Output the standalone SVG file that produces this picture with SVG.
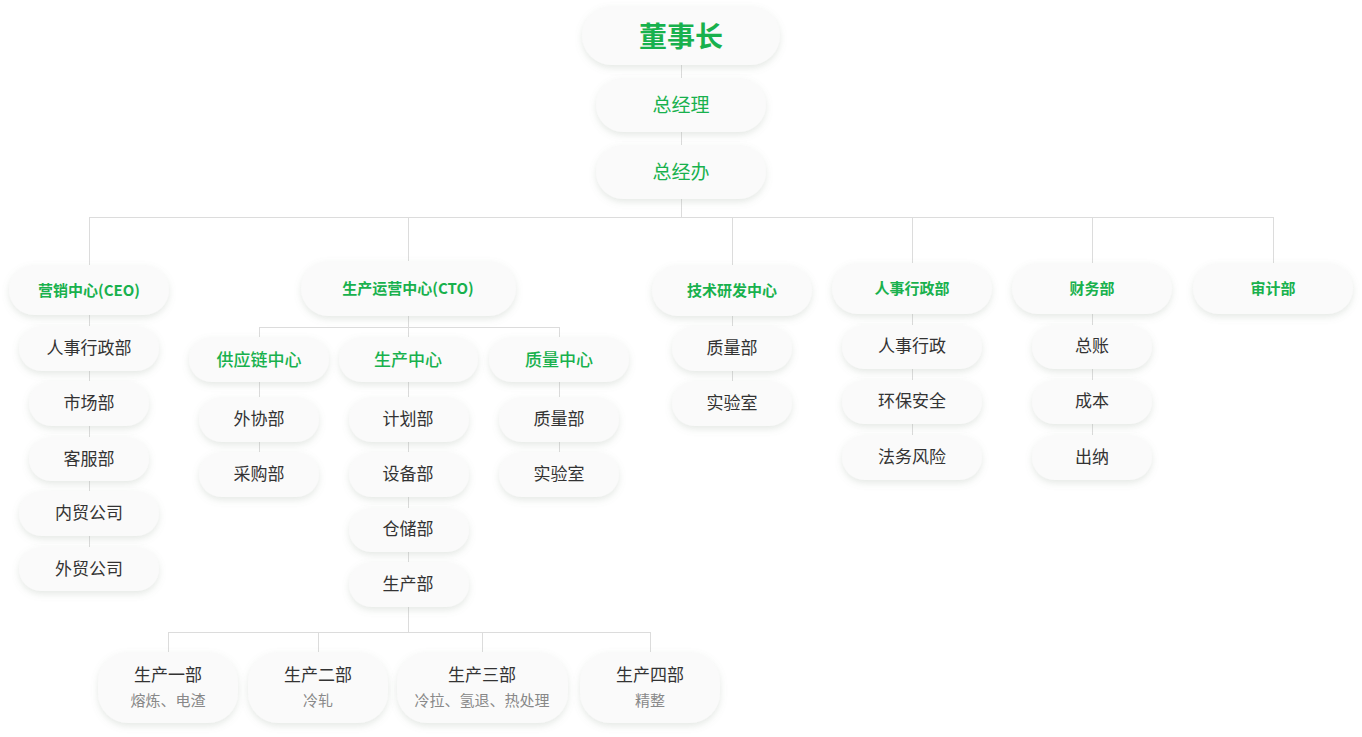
<svg xmlns="http://www.w3.org/2000/svg" width="1362" height="737" viewBox="0 0 1362 737">
<defs>
<filter id="sh" x="-20%" y="-30%" width="140%" height="170%">
<feDropShadow dx="0" dy="3" stdDeviation="3.5" flood-color="#8a9a8a" flood-opacity="0.22"/>
</filter>
<style>
.b{fill:#fafafa;filter:url(#sh)}
.c{stroke:#dcdcdc;stroke-width:1;fill:none}
text{font-family:"Noto Sans CJK SC","Noto Sans",sans-serif;text-anchor:middle;dominant-baseline:central;transform:translateY(-2px)}
.t0{font-size:28px;font-weight:700;fill:#18b14d}
.t1{font-size:19px;fill:#18b14d}
.t2{font-size:15px;font-weight:700;fill:#18b14d}
.t3{font-size:17px;font-weight:500;fill:#18b14d}
.g{font-size:17px;fill:#333}
.s{font-size:15px;fill:#888}
</style>
</defs>
<rect width="1362" height="737" fill="#ffffff"/>
<g id="connectors">
<path class="c" d="M681.5 65V217.5M89.5 217.5H1273.5M89.5 217V547M408.5 217V262M732.5 217V381M912.5 217V435M1092.5 217V435M1273.5 217V263"/>
<path class="c" d="M408.5 316V337M259.5 327.5H559.5M259.5 327V452M559.5 327V452M408.5 337V632"/>
<path class="c" d="M168.5 632.5H650.5M168.5 632V652M318.5 632V652M482.5 632V652M650.5 632V652"/>
</g>
<g id="n-dsz"><rect class="b" x="582" y="6" width="198" height="59" rx="29.5"/><text class="t0" x="681" y="37">董事长</text></g>
<g id="n-zjl"><rect class="b" x="596" y="78" width="170" height="54" rx="27"/><text class="t1" x="681" y="105">总经理</text></g>
<g id="n-zjb"><rect class="b" x="596" y="145" width="170" height="54" rx="27"/><text class="t1" x="681" y="172">总经办</text></g>

<g id="n-yx"><rect class="b" x="9" y="265" width="160" height="50" rx="25"/><text class="t2" x="89" y="291">营销中心(CEO)</text></g>
<g id="n-yx1"><rect class="b" x="19" y="326" width="140" height="45" rx="22.5"/><text class="g" x="89" y="348">人事行政部</text></g>
<g id="n-yx2"><rect class="b" x="29" y="381" width="120" height="45" rx="22.5"/><text class="g" x="89" y="403">市场部</text></g>
<g id="n-yx3"><rect class="b" x="29" y="437" width="120" height="44" rx="22"/><text class="g" x="89" y="459">客服部</text></g>
<g id="n-yx4"><rect class="b" x="19" y="491" width="140" height="45" rx="22.5"/><text class="g" x="89" y="513">内贸公司</text></g>
<g id="n-yx5"><rect class="b" x="19" y="547" width="140" height="44" rx="22"/><text class="g" x="89" y="569">外贸公司</text></g>

<g id="n-cto"><rect class="b" x="301" y="261" width="215" height="55" rx="27.5"/><text class="t2" x="408" y="289">生产运营中心(CTO)</text></g>
<g id="n-gyl"><rect class="b" x="189" y="337" width="140" height="45" rx="22.5"/><text class="t3" x="259" y="360">供应链中心</text></g>
<g id="n-scz"><rect class="b" x="339" y="337" width="139" height="45" rx="22.5"/><text class="t3" x="408" y="360">生产中心</text></g>
<g id="n-zlz"><rect class="b" x="489" y="337" width="140" height="45" rx="22.5"/><text class="t3" x="559" y="360">质量中心</text></g>
<g id="n-wx"><rect class="b" x="199" y="397" width="120" height="45" rx="22.5"/><text class="g" x="259" y="419">外协部</text></g>
<g id="n-cg"><rect class="b" x="199" y="452" width="120" height="45" rx="22.5"/><text class="g" x="259" y="474">采购部</text></g>
<g id="n-jh"><rect class="b" x="349" y="397" width="120" height="45" rx="22.5"/><text class="g" x="408" y="419">计划部</text></g>
<g id="n-sb"><rect class="b" x="349" y="452" width="120" height="45" rx="22.5"/><text class="g" x="408" y="474">设备部</text></g>
<g id="n-cc"><rect class="b" x="349" y="508" width="120" height="44" rx="22"/><text class="g" x="408" y="529">仓储部</text></g>
<g id="n-scb"><rect class="b" x="349" y="562" width="120" height="45" rx="22.5"/><text class="g" x="408" y="584">生产部</text></g>
<g id="n-zlb"><rect class="b" x="499" y="397" width="120" height="45" rx="22.5"/><text class="g" x="559" y="419">质量部</text></g>
<g id="n-syb"><rect class="b" x="499" y="452" width="120" height="45" rx="22.5"/><text class="g" x="559" y="474">实验室</text></g>

<g id="n-p1"><rect class="b" x="98" y="652" width="140" height="71" rx="30"/><text class="g" x="168" y="675">生产一部</text><text class="s" x="168" y="701">熔炼、电渣</text></g>
<g id="n-p2"><rect class="b" x="248" y="652" width="140" height="71" rx="30"/><text class="g" x="318" y="675">生产二部</text><text class="s" x="318" y="701">冷轧</text></g>
<g id="n-p3"><rect class="b" x="397" y="652" width="171" height="71" rx="30"/><text class="g" x="482" y="675">生产三部</text><text class="s" x="482" y="701">冷拉、氢退、热处理</text></g>
<g id="n-p4"><rect class="b" x="580" y="652" width="140" height="71" rx="30"/><text class="g" x="650" y="675">生产四部</text><text class="s" x="650" y="701">精整</text></g>

<g id="n-js"><rect class="b" x="652" y="265" width="160" height="51" rx="25.5"/><text class="t2" x="732" y="291">技术研发中心</text></g>
<g id="n-js1"><rect class="b" x="672" y="326" width="120" height="45" rx="22.5"/><text class="g" x="732" y="348">质量部</text></g>
<g id="n-js2"><rect class="b" x="672" y="381" width="120" height="45" rx="22.5"/><text class="g" x="732" y="403">实验室</text></g>

<g id="n-rs"><rect class="b" x="832" y="263" width="160" height="51" rx="25.5"/><text class="t2" x="912" y="289">人事行政部</text></g>
<g id="n-rs1"><rect class="b" x="842" y="325" width="140" height="44" rx="22"/><text class="g" x="912" y="346">人事行政</text></g>
<g id="n-rs2"><rect class="b" x="842" y="380" width="140" height="44" rx="22"/><text class="g" x="912" y="401">环保安全</text></g>
<g id="n-rs3"><rect class="b" x="842" y="435" width="140" height="45" rx="22.5"/><text class="g" x="912" y="457">法务风险</text></g>

<g id="n-cw"><rect class="b" x="1012" y="263" width="160" height="51" rx="25.5"/><text class="t2" x="1092" y="289">财务部</text></g>
<g id="n-cw1"><rect class="b" x="1032" y="325" width="120" height="44" rx="22"/><text class="g" x="1092" y="346">总账</text></g>
<g id="n-cw2"><rect class="b" x="1032" y="380" width="120" height="44" rx="22"/><text class="g" x="1092" y="401">成本</text></g>
<g id="n-cw3"><rect class="b" x="1032" y="435" width="120" height="45" rx="22.5"/><text class="g" x="1092" y="457">出纳</text></g>

<g id="n-sj"><rect class="b" x="1193" y="263" width="160" height="51" rx="25.5"/><text class="t2" x="1273" y="289">审计部</text></g>
</svg>
